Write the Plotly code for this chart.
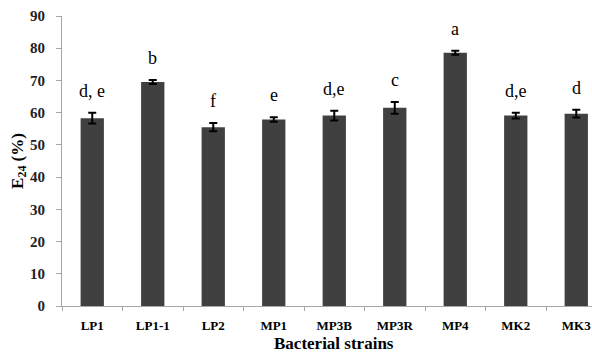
import plotly.graph_objects as go

strains = ["LP1", "LP1-1", "LP2", "MP1", "MP3B", "MP3R", "MP4", "MK2", "MK3"]
e24 = [58.3, 69.5, 55.5, 57.9, 59.1, 61.5, 78.6, 59.1, 59.7]
err = [1.7, 0.6, 1.3, 0.7, 1.5, 1.8, 0.6, 0.9, 1.2]
letters = ["d, e", "b", "f", "e", "d,e", "c", "a", "d,e", "d"]
yticks = [0, 10, 20, 30, 40, 50, 60, 70, 80, 90]

FONT = "Liberation Serif, Times New Roman, serif"
BAR = "#404040"
AXIS = "#a6a6a6"

fig = go.Figure()
fig.add_trace(go.Bar(
    x=strains, y=e24,
    marker=dict(color=BAR, line=dict(width=0)),
    error_y=dict(type="data", array=err, visible=True, color="black",
                 thickness=2, width=4),
    showlegend=False,
))

for s, v, e, t in zip(strains, e24, err, letters):
    fig.add_annotation(x=s, y=v + e, text=t, showarrow=False,
                       yanchor="bottom", yshift=10,
                       font=dict(family=FONT, size=18, color="black"))

fig.add_annotation(x=0.513, y=-0.128, xref="paper", yref="paper",
                   text="<b>Bacterial strains</b>", showarrow=False,
                   xanchor="center", yanchor="middle",
                   font=dict(family=FONT, size=17, color="black"))

fig.update_layout(
    width=592, height=355,
    margin=dict(l=62, r=0, t=16, b=49),
    paper_bgcolor="white", plot_bgcolor="white",
    bargap=0.615,
    font=dict(family=FONT, color="black"),
    xaxis=dict(
        type="category", range=[-0.5, 8.26], automargin=False,
        showline=True, linecolor=AXIS, linewidth=1,
        ticks="outside", tickson="boundaries", ticklen=4, tickcolor=AXIS,
        tickfont=dict(family=FONT, size=13, color="black", weight="bold"),
        ticklabelstandoff=7,
        showgrid=False, zeroline=False,
    ),
    yaxis=dict(
        range=[0, 90], tickvals=yticks, automargin=False,
        showline=True, linecolor=AXIS, linewidth=1,
        ticks="outside", ticklen=5, tickcolor=AXIS,
        tickfont=dict(family=FONT, size=15, color="#222222", weight="bold"),
        ticklabelstandoff=8,
        showgrid=False, zeroline=False,
        title=dict(text="<b>E<sub>24</sub> (%)</b>", standoff=2,
                   font=dict(family=FONT, size=17, color="black")),
    ),
)

fig.write_html(
    "out.html",
    config={"displayModeBar": False},
    post_script="document.body.style.margin='0';document.body.style.overflow='hidden';",
)
